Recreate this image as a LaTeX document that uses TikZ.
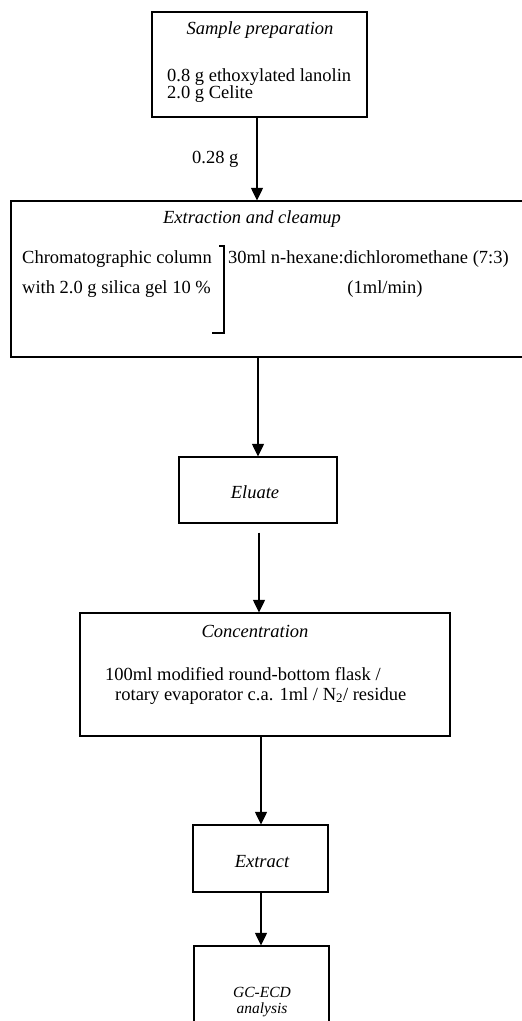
\documentclass[tikz,border=0pt]{standalone}
\usepackage{fontspec}
\setmainfont{Liberation Serif}
\usetikzlibrary{arrows.meta}
\begin{document}
\begin{tikzpicture}[x=1pt,y=-1pt,
  box/.style={draw, line width=1.2pt, inner sep=0pt},
  txt/.style={inner sep=0pt, font=\fontsize{18.5}{21}\selectfont},
  ttl/.style={inner sep=0pt, font=\fontsize{18.5}{21}\selectfont\itshape},
  smttl/.style={inner sep=0pt, font=\fontsize{15.5}{16}\selectfont\itshape},
  arr/.style={line width=1.2pt, -{Triangle[width=12pt,length=12.5pt]}},
  brk/.style={line width=1.2pt}]
\useasboundingbox (0,0) rectangle (522,1021);
% boxes
\node[box, minimum width=215, minimum height=105] (prep) at (259.5,64.5) {};
\node[box, minimum width=513, minimum height=156] (ext) at (267.5,279) {};
\node[box, minimum width=158, minimum height=66] (elu) at (258,490) {};
\node[box, minimum width=370, minimum height=123] (conc) at (265,674.5) {};
\node[box, minimum width=135, minimum height=67] (extr) at (260.5,858.5) {};
\node[box, minimum width=135, minimum height=94] (gc) at (261.5,993) {};
% texts
\node[ttl, anchor=base] (tprep) at (260,34) {Sample preparation};
\node[txt, anchor=base west] (tp1) at (167,81) {0.8 g ethoxylated lanolin};
\node[txt, anchor=base west] (tp2) at (167,98) {2.0 g Celite};
\node[txt, anchor=base west] (tw) at (192,163) {0.28 g};
\node[ttl, anchor=base] (text) at (252,223) {Extraction and cleamup};
\node[txt, anchor=base west] (te1) at (22,263) {Chromatographic column};
\node[txt, anchor=base west] (te2) at (22,293) {with 2.0 g silica gel 10 \%};
\node[txt, anchor=base west] (te3) at (228,263) {30ml n-hexane:dichloromethane (7:3)};
\node[txt, anchor=base] (te4) at (385,293) {(1ml/min)};
\node[ttl, anchor=base] (telu) at (255,498) {Eluate};
\node[ttl, anchor=base] (tconc) at (255,637) {Concentration};
\node[txt, anchor=base west] (tc1) at (105,680) {100ml modified round-bottom flask /};
\node[txt, anchor=base west] (tc2) at (115,700) {rotary evaporator c.a. 1ml / N\textsubscript{2}/ residue};
\node[ttl, anchor=base] (textr) at (262,867) {Extract};
\node[smttl, anchor=base] (tgc1) at (262,997) {GC-ECD};
\node[smttl, anchor=base] (tgc2) at (262,1013) {analysis};
% bracket
\coordinate (b1) at (219,246);
\coordinate (b2) at (224,246);
\coordinate (b3) at (224,333);
\coordinate (b4) at (212,333);
\draw[brk] (b1) -- (b2) -- (b3) -- (b4);
% spine
\coordinate (s1) at (257,0);
\coordinate (s2) at (258,0);
\coordinate (s3) at (259,0);
\coordinate (s4) at (261,0);
\draw[arr] (prep.south -| s1) -- (ext.north -| s1);
\draw[arr] (ext.south -| s2) -- (elu.north -| s2);
\draw[arr, shorten <=9pt] (elu.south -| s3) -- (conc.north -| s3);
\draw[arr] (conc.south -| s4) -- (extr.north -| s4);
\draw[arr] (extr.south -| s4) -- (gc.north -| s4);
\end{tikzpicture}
\end{document}
